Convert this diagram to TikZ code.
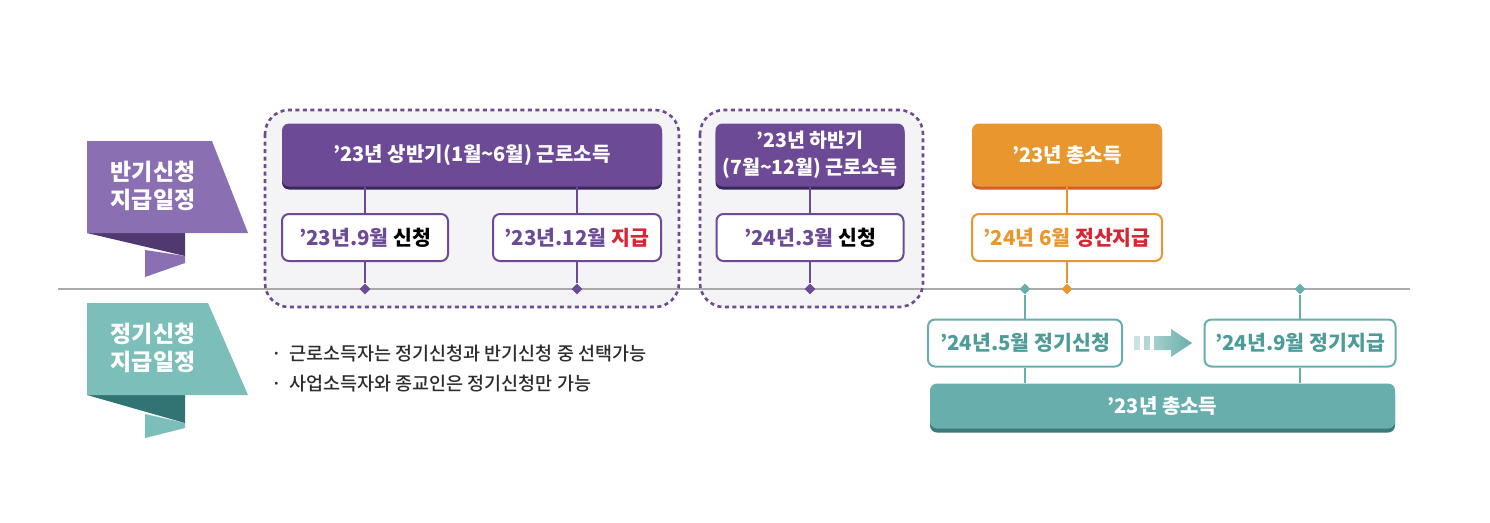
\documentclass[tikz,border=0pt]{standalone}
\usepackage{fontspec}
\setmainfont{Noto Sans CJK KR}
\newfontfamily\medfont{Noto Sans CJK KR Medium}
\usetikzlibrary{shapes.geometric,shadows}
\definecolor{pMain}{RGB}{108,74,150}
\definecolor{pDark}{RGB}{58,38,90}
\definecolor{rPurple}{RGB}{138,112,178}
\definecolor{rPurpleDark}{RGB}{80,56,112}
\definecolor{tMain}{RGB}{103,174,172}
\definecolor{tDark}{RGB}{58,122,120}
\definecolor{tText}{RGB}{78,156,153}
\definecolor{rTeal}{RGB}{124,190,186}
\definecolor{rTealDark}{RGB}{50,115,115}
\definecolor{oMain}{RGB}{232,151,47}
\definecolor{oDark}{RGB}{212,92,40}
\definecolor{redT}{RGB}{214,38,52}
\definecolor{gLine}{RGB}{170,170,170}
\definecolor{regFill}{RGB}{244,244,246}
\definecolor{bulletT}{RGB}{45,45,45}
\tikzset{
  hdr/.style={rounded corners=7pt, minimum height=63pt, text=white, font=\fontsize{20}{24}\selectfont\bfseries, align=center, inner sep=0pt},
  hdrP/.style={hdr, fill=pMain, copy shadow={shadow xshift=0pt, shadow yshift=-3pt, fill=pDark, draw=none}},
  hdrO/.style={hdr, fill=oMain, copy shadow={shadow xshift=0pt, shadow yshift=-3pt, fill=oDark, draw=none}},
  hdrT/.style={hdr, fill=tMain, minimum height=45pt, copy shadow={shadow xshift=0pt, shadow yshift=-4pt, fill=tDark, draw=none}},
  datebox/.style={rounded corners=7pt, fill=white, line width=2pt, minimum height=47pt, inner sep=0pt, font=\fontsize{20.5}{24}\selectfont\bfseries},
  region/.style={rounded corners=24pt, draw=pMain, line width=2.6pt, dash pattern=on 4pt off 3.5pt},
  dia/.style={diamond, inner sep=0pt, minimum size=11pt},
  conn/.style={line width=1.3pt},
  rtext/.style={text=white, font=\fontsize{23}{28}\selectfont\bfseries, align=center},
  note/.style={anchor=west, text=bulletT, font=\medfont\fontsize{18.5}{22}\selectfont},
}
\begin{document}
\begin{tikzpicture}[x=1pt, y=-1pt]
\useasboundingbox (0,0) rectangle (1490,522);
\fill[white] (0,0) rectangle (1490,522);

% regions (fill)
\fill[regFill, rounded corners=24pt] (265,110) rectangle (679,307);
\fill[regFill, rounded corners=24pt] (700,110) rectangle (923,307);

% timeline
\coordinate (tlL) at (58,289);
\coordinate (tlR) at (1410,289);
\draw[gLine, line width=2.4pt] (tlL) -- (tlR);

% region borders
\draw[region] (265,110) rectangle (679,307);
\draw[region] (700,110) rectangle (923,307);

% ribbons
\fill[rPurple] (145,250) -- (185,256) -- (185,263) -- (145,277) -- cycle;
\fill[rPurpleDark] (87,233) -- (185,233) -- (185,256) -- cycle;
\fill[rPurple] (87,141) -- (212,141) -- (248,233) -- (87,233) -- cycle;
\node[rtext] (rib1) at (153,186) {반기신청\\지급일정};

\fill[rTeal] (145,414) -- (185,423) -- (185,428) -- (145,438) -- cycle;
\fill[rTealDark] (87,395) -- (185,395) -- (185,423) -- cycle;
\fill[rTeal] (87,303) -- (208,303) -- (248,395) -- (87,395) -- cycle;
\node[rtext] (rib2) at (153,348) {정기신청\\지급일정};

% purple block 1
\node[hdrP, minimum width=380pt] (hA) at (472,155) {’23년 상반기(1월\textasciitilde 6월) 근로소득};
\node[datebox, draw=pMain, minimum width=166pt] (bA1) at (365,237.5) {\textcolor{pMain}{’23년.9월} 신청};
\node[datebox, draw=pMain, minimum width=168pt] (bA2) at (577,237.5) {\textcolor{pMain}{’23년.12월} \textcolor{redT}{지급}};
\node[dia, fill=pMain] (dA1) at (365,289) {};
\node[dia, fill=pMain] (dA2) at (577,289) {};
\draw[pMain, conn] (hA.south -| bA1) -- (bA1.north);
\draw[pMain, conn] (hA.south -| bA2) -- (bA2.north);
\draw[pMain, conn] (bA1.south) -- (dA1);
\draw[pMain, conn] (bA2.south) -- (dA2);

% purple block 2
\node[hdrP, minimum width=189pt, font=\fontsize{19.5}{27}\selectfont\bfseries] (hB) at (810,155) {’23년 하반기\\(7월\textasciitilde 12월) 근로소득};
\node[datebox, draw=pMain, minimum width=187pt] (bB) at (810,237.5) {\textcolor{pMain}{’24년.3월} 신청};
\node[dia, fill=pMain] (dB) at (810,289) {};
\draw[pMain, conn] (hB.south) -- (bB.north);
\draw[pMain, conn] (bB.south) -- (dB);

% orange block
\node[hdrO, minimum width=190pt] (hC) at (1067,155) {’23년 총소득};
\node[datebox, draw=oMain, minimum width=190pt] (bC) at (1067,237.5) {\textcolor{oMain}{’24년 6월} \textcolor{redT}{정산지급}};
\node[dia, fill=oMain] (dC) at (1067,289) {};
\draw[oMain, conn] (hC.south) -- (bC.north);
\draw[oMain, conn] (bC.south) -- (dC);

% teal block
\node[dia, fill=tMain] (dT1) at (1025,289) {};
\node[dia, fill=tMain] (dT2) at (1300,289) {};
\node[datebox, draw=tMain, text=tText, minimum width=194pt] (bT1) at (1025,343) {’24년.5월 정기신청};
\node[datebox, draw=tMain, text=tText, minimum width=191pt] (bT2) at (1300,343) {’24년.9월 정기지급};
\node[hdrT, minimum width=465pt] (hT) at (1162.5,406) {’23년 총소득};
\draw[tMain, conn] (dT1) -- (bT1.north);
\draw[tMain, conn] (dT2) -- (bT2.north);
\draw[tMain, conn] (bT1.south) -- (bT1.south |- hT.north);
\draw[tMain, conn] (bT2.south) -- (bT2.south |- hT.north);

% arrow between teal boxes
\coordinate (aS) at ([xshift=11pt]bT1.east);
\fill[tMain!35] ([yshift=-7pt]aS) rectangle ([xshift=6pt, yshift=7pt]aS);
\fill[tMain!50] ([xshift=10pt, yshift=-7pt]aS) rectangle ([xshift=16pt, yshift=7pt]aS);
\shade[left color=tMain!60, right color=tMain]
  ([xshift=20pt, yshift=-7pt]aS) -- ([xshift=37pt, yshift=-7pt]aS) -- ([xshift=37pt, yshift=-14pt]aS)
  -- ([xshift=58pt]aS) -- ([xshift=37pt, yshift=14pt]aS) -- ([xshift=37pt, yshift=7pt]aS)
  -- ([xshift=20pt, yshift=7pt]aS) -- cycle;

% bullet notes
\node[note] (n1) at (268,354) {·\, 근로소득자는 정기신청과 반기신청 중 선택가능};
\node[note] (n2) at (268,384) {·\, 사업소득자와 종교인은 정기신청만 가능};
\end{tikzpicture}
\end{document}
